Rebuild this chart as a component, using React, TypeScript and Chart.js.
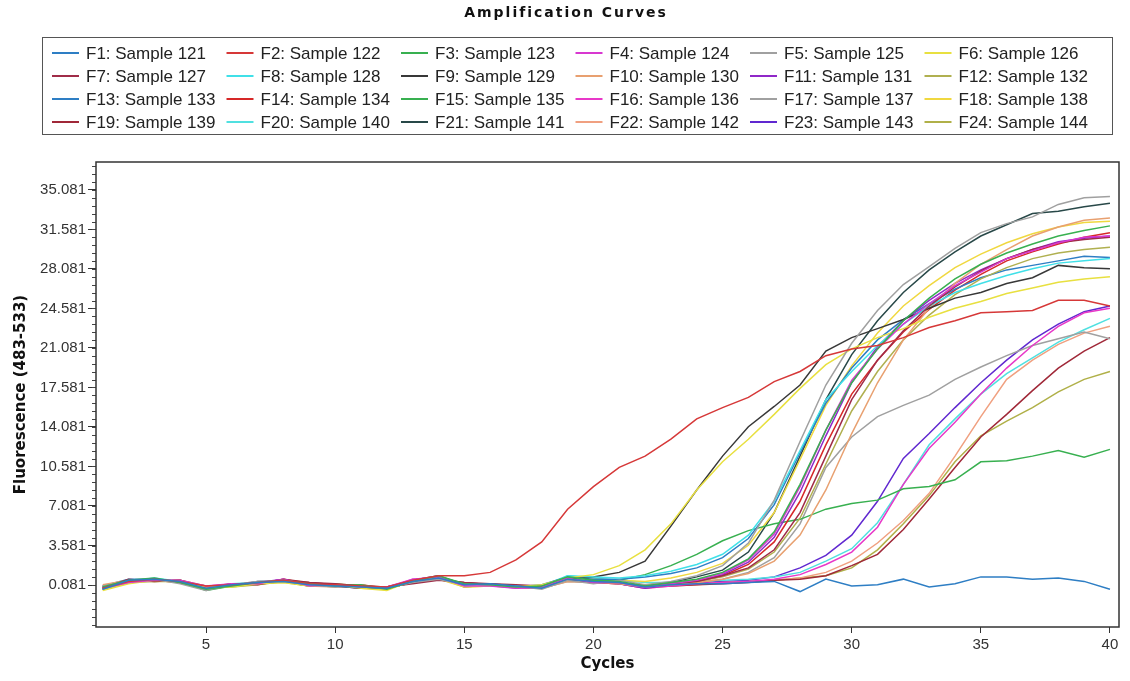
import React, { useEffect, useRef } from "react";
import { Chart, registerables } from "chart.js";

Chart.register(...registerables);

const TITLE = "Amplification Curves";
const X_TITLE = "Cycles";
const Y_TITLE = "Fluorescence (483-533)";

const CYCLES = [1,2,3,4,5,6,7,8,9,10,11,12,13,14,15,16,17,18,19,20,21,22,23,24,25,26,27,28,29,30,31,32,33,34,35,36,37,38,39,40];
const X_TICKS = [5, 10, 15, 20, 25, 30, 35, 40];
const Y_TICKS = [0.081, 3.581, 7.081, 10.581, 14.081, 17.581, 21.081, 24.581, 28.081, 31.581, 35.081];

const LABELS = [
  "F1: Sample 121","F2: Sample 122","F3: Sample 123","F4: Sample 124","F5: Sample 125","F6: Sample 126",
  "F7: Sample 127","F8: Sample 128","F9: Sample 129","F10: Sample 130","F11: Sample 131","F12: Sample 132",
  "F13: Sample 133","F14: Sample 134","F15: Sample 135","F16: Sample 136","F17: Sample 137","F18: Sample 138",
  "F19: Sample 139","F20: Sample 140","F21: Sample 141","F22: Sample 142","F23: Sample 143","F24: Sample 144",
];

const COLORS = [
  "#2E7EC4","#D63838","#38B050","#D838D0","#A0A0A0","#E8E040",
  "#A02C48","#40E0E8","#383838","#E8A070","#9028C8","#B0B050",
  "#2E7EC4","#D62828","#38B050","#E838C8","#A0A0A0","#F0D840",
  "#A02838","#50E0E0","#284848","#F0A080","#6028D0","#B0B048",
];

const F1 = [-0.3,0.5,0.6,0.4,-0.2,0.1,0.3,0.4,0.1,0.0,-0.1,-0.2,0.4,0.7,0.1,0.2,0.0,-0.2,0.6,0.4,0.3,-0.1,0.1,0.2,0.2,0.3,0.4,-0.5,0.6,0.0,0.1,0.6,-0.1,0.2,0.8,0.8,0.6,0.7,0.4,-0.3];
const F2 = [-0.2,0.4,0.6,0.4,0.0,0.1,0.3,0.5,0.2,0.1,0.0,-0.1,0.5,0.9,0.9,1.2,2.3,3.9,6.8,8.8,10.5,11.5,13.0,14.8,15.8,16.7,18.1,19.0,20.4,21.0,21.3,22.0,22.9,23.5,24.2,24.3,24.4,25.3,25.3,24.8];
const F3 = [-0.1,0.5,0.7,0.3,-0.3,0.0,0.3,0.5,0.2,0.0,0.1,-0.3,0.4,0.9,0.2,0.1,-0.1,0.0,0.8,0.5,0.4,0.0,0.3,0.6,1.2,2.4,4.8,9.0,13.8,18.0,21.0,23.5,25.5,27.2,28.5,29.5,30.3,31.0,31.5,31.9];
const F4 = [-0.2,0.3,0.5,0.5,0.0,0.2,0.2,0.6,0.0,0.1,-0.1,-0.1,0.6,0.8,0.0,0.0,-0.2,-0.1,0.7,0.3,0.3,-0.1,0.2,0.5,1.1,2.3,4.6,8.8,13.8,18.2,21.0,23.2,25.0,26.6,27.8,29.0,29.7,30.4,30.9,31.0];
const F5 = [0.0,0.4,0.6,0.2,-0.4,0.1,0.4,0.4,0.1,-0.1,0.0,-0.2,0.3,0.6,0.1,0.1,0.0,-0.3,0.5,0.2,0.5,0.1,0.4,0.9,1.8,3.8,7.6,12.8,17.8,21.5,24.4,26.7,28.3,29.9,31.3,32.1,32.7,33.8,34.4,34.5];
const F6 = [-0.4,0.2,0.5,0.4,-0.1,-0.1,0.2,0.3,0.0,0.1,-0.2,-0.4,0.5,0.7,-0.1,0.0,-0.1,0.1,0.7,1.0,1.8,3.2,5.5,8.5,11.0,13.0,15.2,17.5,19.6,21.0,22.0,22.8,23.8,24.6,25.2,25.9,26.4,26.9,27.2,27.4];
const F7 = [-0.2,0.6,0.4,0.5,-0.2,0.2,0.1,0.5,0.3,0.2,0.0,-0.1,0.2,0.5,0.3,0.2,0.1,0.0,0.6,0.3,0.3,0.0,0.2,0.4,0.9,1.6,3.2,6.5,11.5,16.5,20.0,22.6,24.8,26.5,27.9,29.0,29.8,30.4,30.7,30.9];
const F8 = [-0.3,0.4,0.7,0.4,-0.3,0.2,0.3,0.4,0.2,0.0,-0.1,-0.2,0.5,0.8,0.0,0.1,0.0,-0.2,0.9,0.8,0.7,0.9,1.3,1.9,2.8,4.5,7.5,12.0,16.5,19.0,21.3,23.2,24.8,26.0,26.8,27.5,28.1,28.6,28.8,29.0];
const F9 = [-0.3,0.4,0.6,0.3,-0.2,0.1,0.2,0.4,0.1,0.0,-0.2,-0.2,0.4,0.7,0.1,0.1,0.0,-0.1,0.6,0.8,1.2,2.2,5.3,8.5,11.5,14.1,15.9,17.8,20.8,22.0,22.8,23.6,24.6,25.5,26.0,26.8,27.3,28.4,28.2,28.1];
const F10 = [0.1,0.5,0.5,0.3,-0.3,0.0,0.3,0.5,0.0,-0.1,0.1,-0.3,0.4,0.6,0.2,0.0,-0.1,-0.2,0.4,0.3,0.2,-0.1,0.1,0.3,0.6,1.1,2.2,4.5,8.5,13.5,18.0,21.8,24.6,26.8,28.5,29.8,31.0,31.8,32.4,32.6];
const F11 = [-0.1,0.4,0.6,0.4,-0.1,0.1,0.3,0.6,0.1,0.0,-0.2,-0.1,0.5,0.9,-0.1,0.1,-0.1,-0.2,0.6,0.4,0.2,-0.2,0.1,0.4,1.0,2.1,4.3,8.3,13.3,18.0,21.2,23.5,25.3,26.8,28.0,29.0,29.8,30.5,30.8,31.0];
const F12 = [-0.3,0.3,0.4,0.5,0.0,-0.1,0.1,0.4,0.1,0.2,-0.1,-0.3,0.4,0.8,0.0,0.1,0.0,-0.1,0.5,0.4,0.3,0.0,0.2,0.4,0.8,1.5,3.0,6.0,10.8,15.5,19.0,21.8,24.0,25.8,27.2,28.2,29.0,29.5,29.8,30.0];
const F13 = [0.0,0.6,0.6,0.3,-0.2,0.0,0.4,0.4,0.2,0.1,0.0,-0.2,0.3,0.8,0.2,0.2,-0.1,0.1,0.8,0.6,0.6,0.8,1.1,1.6,2.5,4.2,7.2,11.8,16.2,19.3,21.8,23.6,25.0,26.3,27.3,28.0,28.4,28.8,29.2,29.1];
const F14 = [-0.1,0.5,0.5,0.4,-0.1,0.1,0.2,0.6,0.2,0.1,0.1,-0.2,0.3,0.6,0.2,0.1,0.0,-0.1,0.5,0.4,0.3,-0.1,0.2,0.4,0.9,1.9,3.9,7.5,12.5,17.0,20.0,22.5,24.5,26.2,27.6,28.8,29.6,30.3,30.9,31.3];
const F15 = [-0.2,0.4,0.5,0.4,-0.4,0.0,0.3,0.4,0.0,0.0,-0.1,-0.3,0.5,0.9,0.1,0.1,0.0,-0.2,0.6,0.4,0.5,1.0,1.8,2.8,4.0,4.9,5.5,5.9,6.8,7.3,7.6,8.6,8.8,9.4,11.0,11.1,11.5,12.0,11.4,12.1];
const F16 = [-0.2,0.5,0.6,0.4,0.0,0.1,0.2,0.5,0.1,0.0,-0.1,-0.2,0.6,0.7,0.0,0.1,-0.2,-0.1,0.5,0.3,0.2,-0.2,0.0,0.2,0.3,0.4,0.6,1.0,1.9,3.0,5.2,9.0,12.2,14.5,17.0,19.3,21.3,23.0,24.2,24.6];
const F17 = [0.0,0.3,0.6,0.3,-0.3,0.1,0.4,0.5,0.1,0.0,0.0,-0.1,0.3,0.7,0.1,0.2,0.0,-0.2,0.4,0.3,0.3,0.0,0.2,0.3,0.6,1.2,2.5,5.5,10.5,13.2,15.0,16.0,16.9,18.3,19.4,20.4,21.3,21.9,22.5,21.9];
const F18 = [-0.3,0.3,0.5,0.3,-0.2,0.0,0.2,0.3,0.0,0.1,-0.2,-0.3,0.4,0.6,-0.1,0.0,-0.1,-0.1,0.7,0.6,0.5,0.4,0.7,1.2,2.0,3.6,6.5,11.2,16.0,19.5,22.4,24.8,26.6,28.2,29.4,30.4,31.2,31.8,32.2,32.3];
const F19 = [-0.2,0.5,0.5,0.5,-0.1,0.2,0.2,0.6,0.3,0.1,0.0,-0.2,0.3,0.6,0.3,0.1,0.0,-0.1,0.5,0.3,0.2,-0.1,0.0,0.1,0.2,0.3,0.5,0.6,0.9,1.8,2.8,5.0,7.7,10.5,13.2,15.2,17.3,19.3,20.8,22.0];
const F20 = [-0.1,0.5,0.6,0.4,-0.3,0.1,0.3,0.4,0.2,0.0,0.0,-0.2,0.5,0.8,0.1,0.1,0.0,0.0,0.9,0.7,0.5,0.3,0.3,0.4,0.5,0.6,0.8,1.2,2.2,3.3,5.6,9.0,12.5,14.8,17.0,18.8,20.2,21.6,22.7,23.7];
const F21 = [-0.3,0.4,0.6,0.3,-0.1,0.1,0.2,0.4,0.0,0.0,-0.1,-0.1,0.4,0.7,0.1,0.1,-0.1,-0.2,0.5,0.4,0.3,0.0,0.3,0.8,1.4,3.0,6.5,11.5,16.5,20.5,23.5,26.0,28.0,29.6,31.0,32.0,33.0,33.2,33.6,33.9];
const F22 = [0.0,0.4,0.5,0.3,-0.3,0.0,0.3,0.4,0.1,-0.1,0.0,-0.2,0.4,0.6,0.0,0.1,0.0,-0.2,0.5,0.3,0.2,-0.2,0.0,0.1,0.3,0.4,0.5,0.7,1.2,2.2,3.8,5.8,8.2,11.5,15.0,18.3,20.0,21.4,22.4,23.0];
const F23 = [-0.3,0.3,0.5,0.4,-0.1,0.0,0.2,0.4,0.0,0.1,-0.1,-0.3,0.5,0.7,0.0,0.0,-0.1,-0.2,0.6,0.4,0.2,-0.1,0.1,0.3,0.4,0.5,0.8,1.6,2.7,4.5,7.5,11.3,13.5,15.8,18.0,20.0,21.8,23.2,24.3,24.8];
const F24 = [-0.2,0.5,0.4,0.4,-0.2,0.1,0.2,0.5,0.2,0.2,0.0,-0.1,0.3,0.6,0.2,0.1,0.0,0.0,0.6,0.3,0.2,-0.1,0.1,0.2,0.3,0.4,0.5,0.7,0.9,1.6,3.2,5.5,8.0,11.0,13.3,14.6,15.8,17.2,18.3,19.0];

const SERIES = [F1,F2,F3,F4,F5,F6,F7,F8,F9,F10,F11,F12,F13,F14,F15,F16,F17,F18,F19,F20,F21,F22,F23,F24];

const W = 1130;
const H = 681;

const decorPlugin = {
  id: "decor",
  afterDraw(chart: any) {
    const ctx = chart.ctx as CanvasRenderingContext2D;
    const { left, top, right, bottom } = chart.chartArea;
    ctx.save();
    // title
    ctx.font = "bold 14px 'DejaVu Sans', sans-serif";
    (ctx as any).letterSpacing = "2px";
    ctx.fillStyle = "#111";
    ctx.textAlign = "center";
    ctx.textBaseline = "middle";
    ctx.fillText(TITLE, 566, 13);
    (ctx as any).letterSpacing = "0px";

    // legend box
    ctx.strokeStyle = "#555";
    ctx.lineWidth = 1;
    ctx.strokeRect(42.5, 37.5, 1070, 97);
    ctx.font = "17px 'Liberation Sans', Arial, sans-serif";
    ctx.textAlign = "left";
    chart.data.datasets.forEach((ds: any, i: number) => {
      const col = i % 6;
      const row = Math.floor(i / 6);
      const tx = 86 + col * 174.5;
      const ty = 53 + row * 23;
      ctx.strokeStyle = ds.borderColor;
      ctx.lineWidth = 2;
      ctx.beginPath();
      ctx.moveTo(tx - 34, ty);
      ctx.lineTo(tx - 7, ty);
      ctx.stroke();
      ctx.fillStyle = "#222";
      ctx.fillText(ds.label, tx, ty + 1);
    });

    // minor y ticks
    const ys = chart.scales.y;
    ctx.strokeStyle = "#444";
    ctx.lineWidth = 1;
    for (let k = -5; k <= 53; k++) {
      const v = Y_TICKS[0] + k * 0.7;
      if (v < ys.min || v > ys.max) continue;
      const p = Math.round(ys.getPixelForValue(v)) + 0.5;
      ctx.beginPath();
      ctx.moveTo(left - 4, p);
      ctx.lineTo(left, p);
      ctx.stroke();
    }
    // frame
    ctx.strokeStyle = "#333";
    ctx.lineWidth = 1.5;
    ctx.strokeRect(left, top, right - left, bottom - top);
    ctx.restore();
  },
};

export default function App() {
  const ref = useRef<HTMLCanvasElement | null>(null);
  useEffect(() => {
    if (!ref.current) return;
    Chart.defaults.font.family = "'Liberation Sans', Arial, sans-serif";
    const datasets = SERIES.map((s, i) => ({
      label: LABELS[i],
      data: s.map((v, j) => ({ x: CYCLES[j], y: v })),
      borderColor: COLORS[i],
      backgroundColor: COLORS[i],
      borderWidth: 1.5,
      pointRadius: 0,
      tension: 0,
      fill: false,
    }));
    const chart = new Chart(ref.current, {
      type: "line",
      data: { datasets },
      options: {
        animation: false,
        responsive: false,
        devicePixelRatio: 1,
        layout: { padding: { left: 0, top: 162, right: 11, bottom: 0 } },
        plugins: { legend: { display: false }, tooltip: { enabled: false }, title: { display: false } },
        scales: {
          x: {
            type: "linear",
            min: 0.74,
            max: 40.35,
            afterBuildTicks: (s: any) => { s.ticks = X_TICKS.map((v) => ({ value: v })); },
            afterFit: (s: any) => { s.height = H - 627; },
            grid: { drawOnChartArea: false, drawTicks: true, tickLength: 6, color: "#333" },
            border: { display: false },
            ticks: { color: "#333", font: { size: 15 }, padding: 3, maxRotation: 0, autoSkip: false },
            title: { display: true, text: X_TITLE, color: "#111", font: { family: "'DejaVu Sans', sans-serif", size: 15, weight: "bold" }, padding: { top: 0, bottom: 8 } },
          },
          y: {
            type: "linear",
            min: -3.64,
            max: 37.56,
            afterBuildTicks: (s: any) => { s.ticks = Y_TICKS.map((v) => ({ value: v })); },
            afterFit: (s: any) => { s.width = 96; },
            grid: { drawOnChartArea: false, drawTicks: true, tickLength: 8, color: "#333" },
            border: { display: false },
            ticks: { color: "#333", font: { size: 15 }, padding: 2, autoSkip: false, callback: (v: any) => Number(v).toFixed(3) },
            title: { display: true, text: Y_TITLE, color: "#111", font: { family: "'DejaVu Sans', sans-serif", size: 15, weight: "bold" }, padding: { top: 12, bottom: 0 } },
          },
        },
      },
      plugins: [decorPlugin],
    });
    return () => chart.destroy();
  }, []);
  return (
    <div style={{ position: "absolute", left: 0, top: 0, width: W, height: H, background: "#fff" }}>
      <canvas ref={ref} width={W} height={H} style={{ width: W, height: H, display: "block" }} />
    </div>
  );
}
